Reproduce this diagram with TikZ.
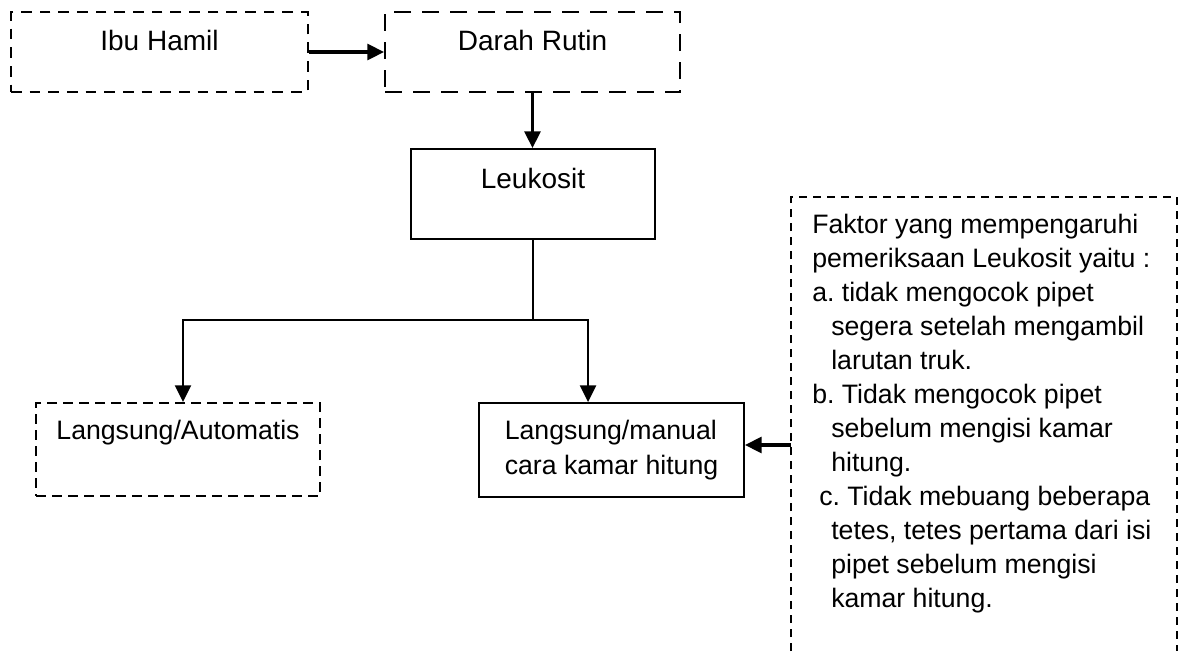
\documentclass[tikz,border=0pt]{standalone}
\usepackage{fontspec}
\setmainfont{Liberation Sans}
\usetikzlibrary{arrows.meta}
\frenchspacing

\begin{document}
\begin{tikzpicture}[x=0.75pt,y=-0.75pt]
    \tikzstyle{box} = [draw, rectangle, inner sep=0pt, line width=1.5pt, font=\fontsize{21}{25}\selectfont]
    \tikzstyle{dbox} = [box, dash pattern=on 8pt off 6pt]
    \tikzstyle{arr} = [-{Triangle[length=12.5pt,width=12pt]}]
    \tikzstyle{heavy} = [line width=2.3pt]
    \tikzstyle{link} = [line width=1.6pt]
    \tikzstyle{ann} = [draw=none, inner sep=0pt, align=left, font=\fontsize{20}{25.5}\selectfont]

    \useasboundingbox (0,0) rectangle (1182,651);

    % top row
    \node[dbox, anchor=north west, minimum width=222.75pt, text height=28.5pt, text depth=31.5pt] (ibu) at (10,11) {Ibu Hamil};
    \node[dbox, dash pattern=on 13pt off 8pt, anchor=north west, minimum width=221.25pt, text height=28.5pt, text depth=31.5pt] (darah) at (384,11) {Darah Rutin};
    \node[box, anchor=north west, minimum width=183pt, text height=29.25pt, text depth=38.25pt] (leuko) at (410,148) {Leukosit};

    % methods
    \node[dbox, dash pattern=on 7.5pt off 4.5pt, font=\fontsize{20}{25}\selectfont, anchor=north west, minimum width=213pt, text height=27pt, text depth=42.75pt] (auto) at (35,402) {Langsung/Automatis};
    \node[box, align=left, font=\fontsize{20}{26.25}\selectfont, anchor=north west, minimum width=198.75pt, minimum height=70.5pt] (manual) at (478,402) {Langsung/manual\\cara kamar hitung};

    % factors
    \draw[line width=1.5pt, dash pattern=on 6pt off 4.5pt] (791,651) -- (791,197) -- (1177,197) -- (1177,651);
    \node[ann, anchor=north west] (faktor) at (812,214) {Faktor yang mempengaruhi\\
        pemeriksaan Leukosit yaitu :\\
        a. tidak mengocok pipet\\
        \hspace*{14.25pt}segera setelah mengambil\\
        \hspace*{14.25pt}larutan truk.\\
        b. Tidak mengocok pipet\\
        \hspace*{14.25pt}sebelum mengisi kamar\\
        \hspace*{14.25pt}hitung.\\
        \hspace*{5.25pt}c. Tidak mebuang beberapa\\
        \hspace*{14.25pt}tetes, tetes pertama dari isi\\
        \hspace*{14.25pt}pipet sebelum mengisi\\
        \hspace*{14.25pt}kamar hitung.};
    \coordinate (fk) at (791,445);
    \coordinate (split) at ([yshift=-60pt]leuko.south);

    % connectors
    \draw[arr, heavy] (ibu.east) -- (darah.west);
    \draw[arr, heavy] (darah.south) -- (darah.south |- leuko.north);
    \draw[link] (leuko.south) -- (split);
    \draw[arr, link] (split) -| ([xshift=3.75pt]auto.north);
    \draw[arr, link] (split) -| ([xshift=-17.6pt]manual.north);
    \draw[arr, heavy] (fk) -- (fk -| manual.east);
\end{tikzpicture}
\end{document}
